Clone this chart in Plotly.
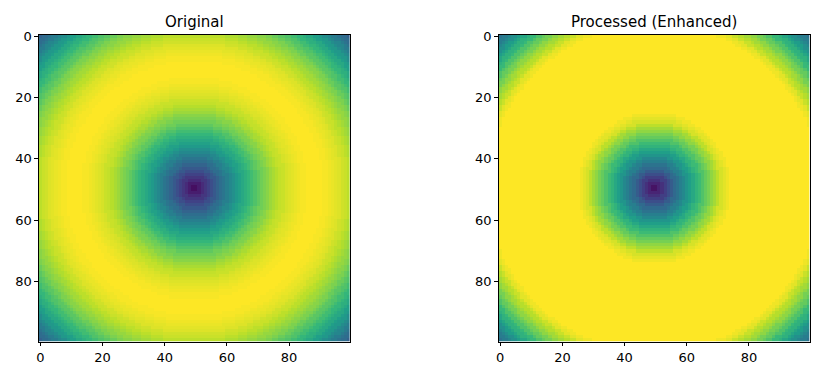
import numpy as np
import plotly.graph_objects as go

# Radial profiles (value vs. distance in pixels from the image centre)
original_profile = [
    0.00, 0.04, 0.08, 0.12, 0.16, 0.20, 0.24, 0.28, 0.32, 0.36,
    0.39, 0.43, 0.47, 0.50, 0.54, 0.57, 0.60, 0.63, 0.66, 0.69,
    0.72, 0.75, 0.78, 0.80, 0.82, 0.85, 0.87, 0.89, 0.91, 0.92,
    0.94, 0.95, 0.96, 0.97, 0.98, 0.99, 0.99, 1.00, 1.00, 1.00,
    1.00, 1.00, 0.99, 0.99, 0.98, 0.97, 0.96, 0.95, 0.93, 0.92,
    0.90, 0.88, 0.86, 0.84, 0.82, 0.80, 0.77, 0.74, 0.72, 0.69,
    0.66, 0.63, 0.60, 0.56, 0.53, 0.49, 0.46, 0.42, 0.38, 0.35,
    0.31, 0.30,
]
processed_profile = [
    0.00, 0.05, 0.10, 0.14, 0.19, 0.24, 0.29, 0.34, 0.38, 0.43,
    0.47, 0.52, 0.56, 0.60, 0.65, 0.68, 0.72, 0.76, 0.79, 0.83,
    0.86, 0.90, 0.94, 0.96, 0.98, 1.00, 1.00, 1.00, 1.00, 1.00,
    1.00, 1.00, 1.00, 1.00, 1.00, 1.00, 1.00, 1.00, 1.00, 1.00,
    1.00, 1.00, 1.00, 1.00, 1.00, 1.00, 1.00, 1.00, 1.00, 1.00,
    1.00, 1.00, 1.00, 1.00, 0.98, 0.96, 0.92, 0.89, 0.86, 0.83,
    0.79, 0.76, 0.72, 0.67, 0.64, 0.59, 0.55, 0.50, 0.46, 0.42,
    0.37, 0.36,
]
image_size = 100
tick_values = [0, 20, 40, 60, 80]
titles = ["Original", "Processed (Enhanced)"]

idx = np.arange(image_size)
cx = (image_size - 1) / 2
dist = np.sqrt((idx[None, :] - cx) ** 2 + (idx[:, None] - cx) ** 2)
ridx = np.rint(dist).astype(int)
z_orig = np.array(original_profile)[ridx]
z_proc = np.array(processed_profile)[ridx]

W, H = 819, 374
fig = go.Figure()
fig.add_trace(go.Heatmap(z=z_orig, x=idx, y=idx, colorscale="Viridis", zmin=0, zmax=1,
                         showscale=False, xaxis="x", yaxis="y", hoverinfo="skip"))
fig.add_trace(go.Heatmap(z=z_proc, x=idx, y=idx, colorscale="Viridis", zmin=0, zmax=1,
                         showscale=False, xaxis="x2", yaxis="y2", hoverinfo="skip"))

top, bottom = 29.0, 341.0
ydom = [1 - bottom / H, 1 - top / H]
lefts = [36.0, 497.5]
size = 312.0

axis_common = dict(showgrid=False, zeroline=False, showline=True, mirror=True,
                   linecolor="black", linewidth=1, ticks="outside", ticklen=3.5,
                   tickwidth=1, tickcolor="black", tickvals=tick_values,
                   tickfont=dict(family="DejaVu Sans", size=13, color="black"))

layout = dict(width=W, height=H, margin=dict(l=0, r=0, t=0, b=0),
              paper_bgcolor="white", plot_bgcolor="white", showlegend=False)
for i, left in enumerate(lefts):
    sfx = "" if i == 0 else str(i + 1)
    layout["xaxis" + sfx] = dict(axis_common, domain=[left / W, (left + size) / W],
                                 range=[-0.5, image_size - 0.5], anchor="y" + sfx)
    layout["yaxis" + sfx] = dict(axis_common, domain=ydom,
                                 range=[image_size - 0.5, -0.5], anchor="x" + sfx)
fig.update_layout(**layout)

for i, left in enumerate(lefts):
    fig.add_annotation(text=titles[i], x=(left + size / 2) / W, y=1 - 16 / H,
                       xref="paper", yref="paper", showarrow=False,
                       font=dict(family="DejaVu Sans", size=15, color="black"),
                       xanchor="center", yanchor="middle")

fig.write_html("out.html")
